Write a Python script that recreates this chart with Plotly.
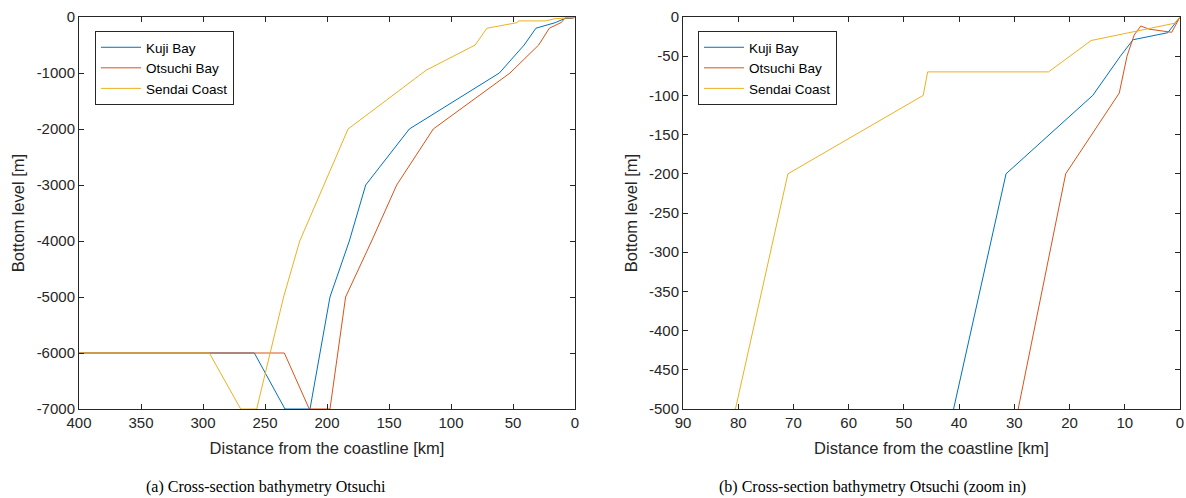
import plotly.graph_objects as go

# ---- data (distance from coastline [km], bottom level [m]) ----
series_names = ["Kuji Bay", "Otsuchi Bay", "Sendai Coast"]

kuji_dist = [0, 2.2, 8.5, 10.8, 15.8, 31.5, 41, 61, 133.6, 168.8, 182, 197.6, 213.7, 233.9, 258.6, 400]
kuji_depth = [0, -20, -29, -50, -100, -200, -500, -1000, -2000, -3000, -4000, -5000, -7000, -7000, -6000, -6000]

otsuchi_dist = [0, 1.5, 5.6, 7.1, 8.3, 9.6, 11, 20.7, 29.3, 52.4, 114.3, 143.8, 164, 185, 197.6, 214.3, 234.4, 400]
otsuchi_depth = [0, -19.5, -15.5, -11.5, -23, -50, -97, -200, -500, -1000, -2000, -3000, -4000, -5000, -7000, -7000, -6000, -6000]

sendai_dist = [0, 1, 16.1, 23.8, 45.7, 46.5, 71, 80.5, 120, 183, 222, 235, 256.7, 269.6, 294.9, 400]
sendai_depth = [0, -8, -30, -70, -70, -100, -200, -500, -950, -2000, -4000, -5000, -7000, -7000, -6000, -6000]

colors = ["#0072BD", "#D95319", "#EDB120"]

left_xticks = [0, 50, 100, 150, 200, 250, 300, 350, 400]
left_yticks = [0, -1000, -2000, -3000, -4000, -5000, -6000, -7000]
right_xticks = [0, 10, 20, 30, 40, 50, 60, 70, 80, 90]
right_yticks = [0, -50, -100, -150, -200, -250, -300, -350, -400, -450, -500]

x_title = "Distance from the coastline [km]"
y_title = "Bottom level [m]"
captions = ["(a) Cross-section bathymetry Otsuchi",
            "(b) Cross-section bathymetry Otsuchi (zoom in)"]

W, H = 1186, 498
AX = "#262626"
FONT = "Liberation Sans, Arial, sans-serif"

fig = go.Figure()
all_data = [(kuji_dist, kuji_depth), (otsuchi_dist, otsuchi_depth), (sendai_dist, sendai_depth)]

for panel, (xa, ya, leg) in enumerate([("x", "y", "legend"), ("x2", "y2", "legend2")]):
    for name, (d, z), c in zip(series_names, all_data, colors):
        fig.add_trace(go.Scatter(x=d, y=z, mode="lines", name=name,
                                 line=dict(color=c, width=1),
                                 xaxis=xa, yaxis=ya, legend=leg,
                                 hoverinfo="skip"))

def px_x(p):
    return p / W

def px_y(p):
    return 1 - p / H

def hy(v):
    return str(v).replace("\u2212", "-")

common_axis = dict(showline=True, linecolor=AX, linewidth=1, mirror="ticks",
                   ticks="inside", ticklen=5, tickcolor=AX, tickwidth=1,
                   showgrid=False, zeroline=False, automargin=False,
                   tickfont=dict(family=FONT, size=15, color=AX),
                   title_font=dict(family=FONT, size=16.5, color=AX))

legend_style = dict(xanchor="left", yanchor="top",
                    bgcolor="white", bordercolor=AX, borderwidth=1,
                    font=dict(family=FONT, size=13.5, color="black"),
                    tracegroupgap=0, itemwidth=40)

fig.update_layout(
    width=W, height=H,
    margin=dict(l=0, r=0, t=0, b=0, autoexpand=False),
    paper_bgcolor="white", plot_bgcolor="white",
    showlegend=True,
    xaxis=dict(domain=[px_x(79), px_x(575)], range=[400, 0], anchor="y",
               tickmode="array", tickvals=left_xticks, ticktext=[hy(v) for v in left_xticks],
               title=dict(text=x_title, standoff=12), **common_axis),
    yaxis=dict(domain=[px_y(409), px_y(17)], range=[-7000, 0], anchor="x",
               tickmode="array", tickvals=left_yticks, ticktext=[hy(v) for v in left_yticks],
               title=dict(text=y_title, standoff=7), **common_axis),
    xaxis2=dict(domain=[px_x(683), px_x(1180)], range=[90, 0], anchor="y2",
                tickmode="array", tickvals=right_xticks, ticktext=[hy(v) for v in right_xticks],
                title=dict(text=x_title, standoff=12), **common_axis),
    yaxis2=dict(domain=[px_y(409), px_y(17)], range=[-500, 0], anchor="x2",
                tickmode="array", tickvals=right_yticks, ticktext=[hy(v) for v in right_yticks],
                title=dict(text=y_title, standoff=7), **common_axis),
    legend=dict(x=px_x(95), y=px_y(31), **legend_style),
    legend2=dict(x=px_x(698), y=px_y(31), **legend_style),
)

for cap, cx in zip(captions, [266, 872]):
    fig.add_annotation(text=cap, xref="paper", yref="paper", x=px_x(cx), y=px_y(487),
                       xanchor="center", yanchor="middle", showarrow=False,
                       font=dict(family="Liberation Serif, Times New Roman, serif", size=16, color="black"))

fig.write_html("out.html")
